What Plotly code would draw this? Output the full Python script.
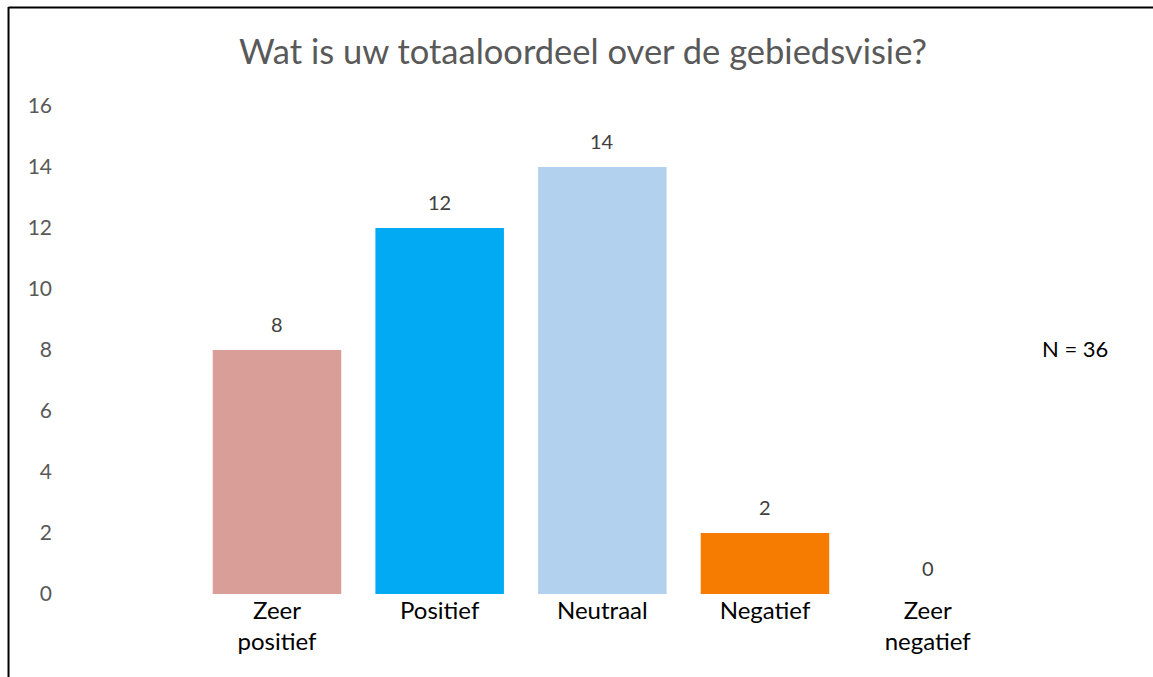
import plotly.graph_objects as go

categories = ["Zeer<br>positief", "Positief", "Neutraal", "Negatief", "Zeer<br>negatief"]
values = [8, 12, 14, 2, 0]
colors = ["#DA9E98", "#02A9F3", "#B1D1EF", "#F57C00", "#FFFFFF"]
y_ticks = [0, 2, 4, 6, 8, 10, 12, 14, 16]
title_text = "Wat is uw totaaloordeel over de gebiedsvisie?"
note_text = "N = 36"

W, H = 1153, 677
ml, mr, mt, mb = 53, 143.5, 106, 83
pw, ph = W - ml - mr, H - mt - mb

xs = list(range(len(categories)))

fig = go.Figure(
    go.Bar(
        x=xs,
        y=values,
        marker=dict(color=colors, line=dict(width=0)),
        width=0.79,
        hoverinfo="x+y",
    )
)

annotations = [
    dict(x=x, y=v, xref="x", yref="y", text=str(v), showarrow=False,
         yanchor="middle", yshift=26,
         font=dict(family="Lato", size=20, color="#404040"))
    for x, v in zip(xs, values)
]
annotations.append(
    dict(text=note_text, xref="paper", yref="paper",
         x=(1076 - ml) / pw, y=(594 - 348) / ph,
         xanchor="center", yanchor="middle", showarrow=False,
         font=dict(family="Lato", size=22, color="#000000"))
)

fig.update_layout(
    width=W, height=H,
    margin=dict(l=ml, r=mr, t=mt, b=mb, pad=0),
    paper_bgcolor="white", plot_bgcolor="white",
    showlegend=False,
    title=dict(text=title_text, x=(583 / W), xanchor="center", y=1 - 52 / H, yanchor="middle",
               font=dict(family="Lato", size=34.5, color="#595959")),
    xaxis=dict(range=[-1.377, 4.5], tickvals=xs, ticktext=categories,
               showgrid=False, zeroline=False, showline=False, ticks="",
               tickfont=dict(family="Lato", size=24, color="#000000")),
    yaxis=dict(range=[0, 16], tickvals=y_ticks, showgrid=False, zeroline=False, showline=False,
               ticks="", tickfont=dict(family="Lato", size=21, color="#595959")),
    annotations=annotations,
    shapes=[
        dict(type="line", xref="paper", yref="paper",
             x0=(8.5 - ml) / pw, x1=(8.5 - ml) / pw,
             y0=(594 - 7) / ph, y1=(594 - 680) / ph,
             line=dict(color="black", width=2)),
        dict(type="line", xref="paper", yref="paper",
             x0=(8.5 - ml) / pw, x1=(1160 - ml) / pw,
             y0=(594 - 7.5) / ph, y1=(594 - 7.5) / ph,
             line=dict(color="black", width=2)),
    ],
)

fig.write_html("out.html", config={"displayModeBar": False},
               post_script="document.body.style.margin='0';")
